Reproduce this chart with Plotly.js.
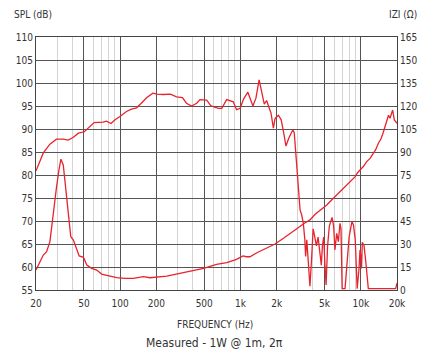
<!DOCTYPE html>
<html>
<head>
<meta charset="utf-8">
<script src="https://cdn.plot.ly/plotly-3.0.1.min.js"></script>
<style>
html,body{margin:0;padding:0;background:#fff;}
#chart{width:430px;height:361px;}
</style>
</head>
<body>
<div id="chart"></div>
<script>
// SPL response (Hz, dB)
var splFreq = [20,23,26.1,29.6,33.7,37,40.9,45,50.4,56,60.9,72.3,77,84,90.8,99.8,113,124,137,150,166,187,202,228,262,294,330,356,393,433,461,524,566,617,660,700,768,872,928,996,1061,1152,1270,1345,1430,1500,1578,1650,1728,1797,1878,1940,2070,2180,2280,2390,2520,2720,2800,2880,2980,3130,3230,3330,3430,3480,3560,3650,3780,3900,4020,4150,4280,4420,4560,4700,4800,4920,5030,5150,5300,5480,5770,5950,6100,6310,6510,6720,6850,7000,7400,7770,8000,8450,8700,9000,9150,9330,9650,9850,10000,10150,10300,10650,11000,11300,11450,11550,15000,19500,20000];
var splDb = [80.9,84.8,86.7,87.8,87.8,87.6,88.2,89.1,89.4,90.5,91.4,91.5,91.7,91.2,92.0,92.7,93.8,94.3,94.6,95.6,96.8,97.8,97.6,97.5,97.6,97.0,96.8,95.6,95.0,95.6,96.4,96.3,95.1,94.7,94.5,94.5,96.4,95.9,94.2,94.5,96.5,98.0,95.0,96.7,100.7,98.1,95.4,96.2,94.9,93.4,90.2,92.3,93.0,92.0,89.4,86.3,88.0,89.8,89.2,84.8,78.9,72.4,71.3,69.5,65.9,62.3,65.9,60.8,55.8,61.7,68.3,66.5,64.6,66.5,63.3,60.4,64.6,66.5,60.8,56.1,64.6,68.9,70.8,68.9,63.7,67.3,65.5,69.5,68.3,55.3,55.3,62.3,66.5,69.9,69.1,65.9,60.1,55.3,59.3,63.7,62.3,59.7,65.4,64.6,61.2,57.2,56.8,55.3,55.3,55.3,56.5];

// Impedance (Hz, ohm)
var zFreq = [20,20.9,22.2,23,24.5,25.3,26.1,27,28,29,29.6,31,32.2,33.7,35.6,37,38.9,40.9,43,45.7,49.6,52.9,58,63.9,70.2,79.8,93.4,110,129,156,177,244,335,494,633,769,928,1050,1120,1200,1370,1650,1940,2280,2590,2740,3000,3400,3780,4200,4600,5220,5700,6310,6900,7620,8300,8990,9400,9900,10500,11200,12000,12700,13300,14000,14700,15300,16300,17000,17500,18400,19000,20000];
var zOhm = [13.0,16.3,20.7,22.8,25.0,28.2,31.5,41.0,52.0,62.0,67.0,78.0,85.3,81.5,63.0,47.8,34.8,32.6,28.2,22.2,21.3,16.3,14.1,13.0,10.4,9.1,8.0,7.6,7.6,8.7,8.0,9.1,11.3,14.1,16.7,17.8,20.0,22.2,21.7,21.7,24.3,27.2,30.0,33.7,37.0,38.0,40.5,43.5,45.7,49.5,52.0,55.4,58.5,62.0,64.5,68.5,71.5,73.9,76.5,78.3,80.5,83.7,86.0,89.1,91.5,95.7,98.5,102.2,108.7,114.0,112.0,117.4,110.9,108.7];

var xTickVals = [20,50,100,200,500,1000,2000,5000,10000,20000];
var xTickText = ['20','50','100','200','500','1k','2k','5k','10k','20k'];
var xMinorVals = [30,40,60,70,80,90,300,400,600,700,800,900,3000,4000,6000,7000,8000,9000];
var yLeftTicks = [55,60,65,70,75,80,85,90,95,100,105,110];
var yRightTicks = [0,15,30,45,60,75,90,105,120,135,150,165];

var FONT = '"Liberation Sans Narrow", "DejaVu Sans Condensed", "Arial Narrow", "Liberation Sans", sans-serif';
var RED = '#e8232d';

var traces = [
  {x: splFreq, y: splDb, type: 'scatter', mode: 'lines', line: {color: RED, width: 1.3}, xaxis: 'x', yaxis: 'y', hoverinfo: 'skip'},
  {x: zFreq, y: zOhm, type: 'scatter', mode: 'lines', line: {color: RED, width: 1.3}, xaxis: 'x', yaxis: 'y2', hoverinfo: 'skip'}
];

var layout = {
  width: 430, height: 361,
  margin: {l: 36, r: 33, t: 37, b: 71},
  paper_bgcolor: '#ffffff', plot_bgcolor: '#ffffff',
  showlegend: false,
  font: {family: FONT, size: 10, color: '#333'},
  xaxis: {
    type: 'log', range: [Math.log10(20), Math.log10(20000)],
    tickmode: 'array', tickvals: xTickVals, ticktext: xTickText,
    showgrid: true, gridcolor: '#555', gridwidth: 1,
    minor: {tickmode: 'array', tickvals: xMinorVals, showgrid: true, gridcolor: '#d4d4d4', gridwidth: 1, ticks: ''},
    showline: true, linecolor: '#444', linewidth: 1, mirror: true,
    ticks: '', zeroline: false, ticklabelstandoff: 4,
    tickfont: {family: FONT, size: 10, color: '#333'}
  },
  yaxis: {
    range: [55, 110], tickmode: 'array', tickvals: yLeftTicks,
    showgrid: true, gridcolor: '#555', gridwidth: 1,
    showline: true, linecolor: '#444', linewidth: 1,
    ticks: '', zeroline: false,
    tickfont: {family: FONT, size: 10, color: '#333'}
  },
  yaxis2: {
    range: [0, 165], overlaying: 'y', side: 'right',
    tickmode: 'array', tickvals: yRightTicks,
    showgrid: false, showline: true, linecolor: '#444', linewidth: 1,
    ticks: '', zeroline: false,
    tickfont: {family: FONT, size: 10, color: '#333'}
  },
  annotations: [
    {text: 'SPL (dB)', xref: 'paper', yref: 'paper', x: -0.067, y: 1.09, xanchor: 'left', yanchor: 'middle', showarrow: false, font: {family: FONT, size: 10, color: '#333'}},
    {text: 'IZI (Ω)', xref: 'paper', yref: 'paper', x: 1.06, y: 1.09, xanchor: 'right', yanchor: 'middle', showarrow: false, font: {family: FONT, size: 10, color: '#333'}},
    {text: 'FREQUENCY (Hz)', xref: 'paper', yref: 'paper', x: 0.495, y: -0.138, xanchor: 'center', yanchor: 'middle', showarrow: false, font: {family: FONT, size: 10, color: '#333'}},
    {text: 'Measured - 1W @ 1m, 2π', xref: 'paper', yref: 'paper', x: 0.495, y: -0.21, xanchor: 'center', yanchor: 'middle', showarrow: false, font: {family: FONT, size: 12, color: '#333'}}
  ]
};

Plotly.newPlot('chart', traces, layout, {staticPlot: true, displayModeBar: false});
</script>
</body>
</html>
